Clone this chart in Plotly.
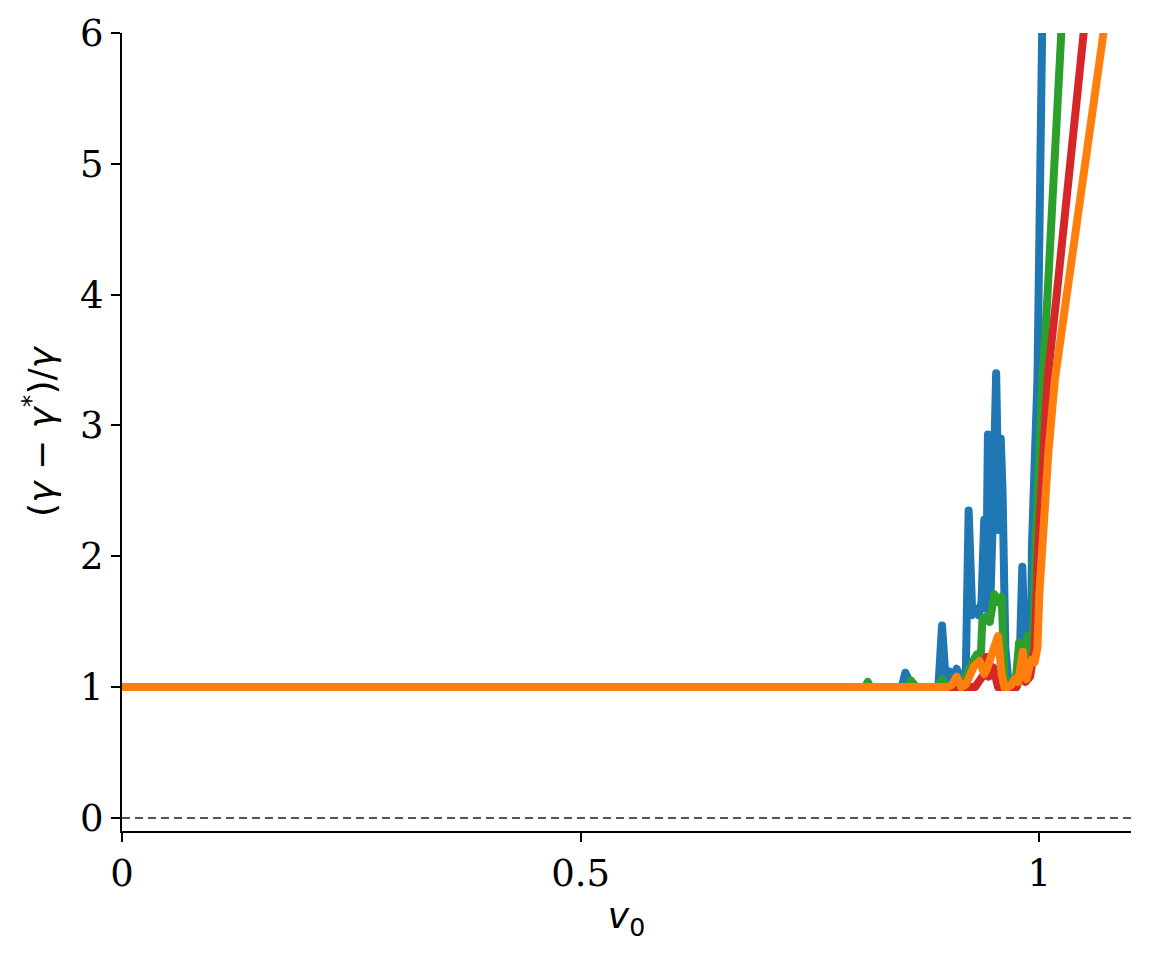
import plotly.graph_objects as go

# relative error (gamma - gamma*)/gamma against v0, four runs
blue_x = [0, 0.85, 0.854, 0.858, 0.862, 0.866, 0.89, 0.894, 0.898, 0.902,
          0.906, 0.91, 0.914, 0.918, 0.92, 0.923, 0.927, 0.931, 0.934, 0.937,
          0.94, 0.942, 0.944, 0.946, 0.949, 0.951, 0.953, 0.956, 0.958, 0.96,
          0.963, 0.967, 0.975, 0.978, 0.9815, 0.985, 0.988, 0.991, 0.992, 0.998,
          0.9996, 1.0019, 1.006]
blue_y = [1, 1, 1.11, 1.05, 1.03, 1.0, 1.0, 1.47, 1.05, 1.12,
          1.08, 1.14, 1.06, 1.02, 1.15, 2.35, 1.55, 1.6, 1.55, 1.65,
          2.28, 1.6, 2.93, 1.5, 2.2, 2.6, 3.4, 2.2, 2.9, 2.49,
          1.3, 1.0, 1.0, 1.05, 1.92, 1.15, 1.2, 1.3, 2.08, 3.35,
          4.7, 6.0, 7.5]

green_x = [0, 0.81, 0.813, 0.816, 0.855, 0.86, 0.865, 0.89, 0.894, 0.898,
           0.91, 0.915, 0.92, 0.927, 0.932, 0.936, 0.938, 0.942, 0.946, 0.951,
           0.955, 0.959, 0.962, 0.966, 0.972, 0.975, 0.978, 0.981, 0.984, 0.987,
           0.991, 0.993, 0.996, 0.999, 1.0035, 1.009, 1.0145, 1.019, 1.0237, 1.033]
green_y = [1, 1, 1.04, 1.0, 1.0, 1.05, 1.0, 1.0, 1.06, 1.0,
           1.0, 1.05, 1.08, 1.19, 1.25, 1.2, 1.52, 1.54, 1.5, 1.71,
           1.65, 1.69, 1.1, 1.0, 1.0, 1.1, 1.34, 1.15, 1.2, 1.39,
           1.3, 1.3, 2.08, 2.7, 3.35, 4.0, 4.7, 5.3, 6.0, 7.2]

red_x = [0, 0.93, 0.935, 0.94, 0.9423, 0.945, 0.95, 0.955, 0.96, 0.975,
         0.98, 0.985, 0.99, 0.995, 0.999, 1.003, 1.009, 1.019, 1.029, 1.038,
         1.047, 1.066]
red_y = [1, 1, 1.05, 1.1, 1.23, 1.08, 1.15, 1.0, 1.0, 1.0,
         1.1, 1.04, 1.08, 1.3, 2.08, 2.7, 3.35, 4.0, 4.7, 5.3,
         6.0, 7.2]

orange_x = [0, 0.9, 0.905, 0.91, 0.915, 0.92, 0.925, 0.929, 0.935, 0.94,
            0.943, 0.947, 0.951, 0.955, 0.959, 0.962, 0.966, 0.97, 0.973, 0.977,
            0.982, 0.986, 0.989, 0.992, 0.995, 0.998, 1.0, 1.003, 1.006, 1.01,
            1.017, 1.030, 1.042, 1.054, 1.068, 1.094]
orange_y = [1, 1, 1.02, 1.08, 1.0, 1.02, 1.1, 1.16, 1.2, 1.1,
            1.14, 1.22, 1.31, 1.39, 1.1, 1.0, 1.0, 1.02, 1.06, 1.04,
            1.27, 1.06, 1.15, 1.21, 1.19, 1.3, 1.7, 2.08, 2.45, 2.8,
            3.35, 4.0, 4.7, 5.3, 6.0, 7.2]

x_ticks = [0, 0.5, 1]
x_tick_text = ["0", "0.5", "1"]
y_ticks = [0, 1, 2, 3, 4, 5, 6]

SERIES = [
    (blue_x, blue_y, "#1f77b4"),
    (green_x, green_y, "#2ca02c"),
    (red_x, red_y, "#d62728"),
    (orange_x, orange_y, "#ff7f0e"),
]

fig = go.Figure()
for xs, ys, color in SERIES:
    fig.add_trace(go.Scatter(
        x=xs, y=ys, mode="lines",
        line=dict(color=color, width=8),
        showlegend=False, hoverinfo="skip",
    ))

# reference level at zero
fig.add_hline(y=0, line=dict(color="#555555", width=2, dash="8px,5px"), layer="below")

tick_font = dict(family="DejaVu Serif", size=37, color="black")
title_font = dict(family="DejaVu Sans", size=36, color="black")
fig.update_layout(
    width=1151, height=957,
    plot_bgcolor="white", paper_bgcolor="white",
    margin=dict(l=122, r=20, t=33, b=126),
    xaxis=dict(
        range=[0, 1.1], tickvals=x_ticks, ticktext=x_tick_text,
        showgrid=False, zeroline=False, showline=True, linecolor="black", linewidth=2,
        ticks="outside", ticklen=9, tickwidth=2, tickcolor="black",
        tickfont=tick_font,
        title=dict(text="<i>v</i><sub>0</sub>", font=title_font, standoff=8),
    ),
    yaxis=dict(
        range=[-0.1, 6], tickvals=y_ticks,
        showgrid=False, zeroline=False, showline=True, linecolor="black", linewidth=2,
        ticks="outside", ticklen=9, tickwidth=2, tickcolor="black",
        tickfont=tick_font,
        title=dict(text="(<i>γ</i> − <i>γ</i><sup>*</sup>)/<i>γ</i>", font=title_font, standoff=14),
    ),
)

# no page margin, rounded joins like the original rendering
post = ("var s=document.createElement('style');"
        "s.textContent='body{margin:0!important}"
        ".scatterlayer .js-line{stroke-linejoin:round!important;stroke-linecap:round!important}';"
        "document.head.appendChild(s);")
fig.write_html("out.html", post_script=post, config={"displayModeBar": False})
